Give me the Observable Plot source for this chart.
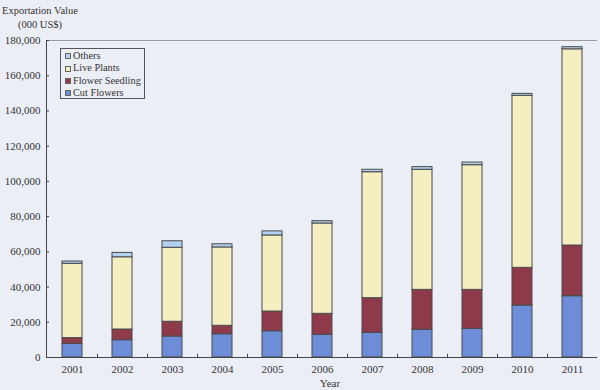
<!DOCTYPE html>
<html>
<head>
<meta charset="utf-8">
<script src="https://cdn.jsdelivr.net/npm/d3@7"></script>
<script src="https://cdn.jsdelivr.net/npm/@observablehq/plot@0.6"></script>
<style>
  html, body { margin: 0; padding: 0; background: #eceef6; }
  #wrap { position: relative; width: 600px; height: 390px; font-family: "Liberation Serif", "DejaVu Serif", serif; color: #333; }
  #ytitle { position: absolute; left: 0; top: 4px; width: 80px; text-align: center; font-size: 10.5px; line-height: 14px; }
  #legend { position: absolute; left: 60px; top: 48px; width: 85px; height: 51px; border: 1px solid #555; background: #eceef6; font-size: 10.3px; line-height: 12.4px; padding: 1px 0 0 4px; box-sizing: border-box; }
  #legend .it { display: flex; align-items: center; white-space: nowrap; }
  #legend .sw { display: inline-block; width: 4px; height: 4px; border: 1px solid #666; margin-right: 2px; }
</style>
</head>
<body>
<div id="wrap">
  <div id="chart"></div>
  <div id="ytitle">Exportation Value<br>(000 US$)</div>
  <div id="legend"></div>
</div>
<script>
const years = ["2001","2002","2003","2004","2005","2006","2007","2008","2009","2010","2011"];
const cutFlowers     = [7700, 9800, 11900, 13200, 14900, 12900, 14000, 15700, 16300, 29500, 34800];
const flowerSeedling = [3300, 6100, 8400, 4800, 11200, 11900, 19700, 22700, 22100, 21400, 28800];
const livePlants     = [42200, 41000, 42000, 44500, 43200, 51300, 71500, 68200, 70800, 97700, 111400];
const others         = [1300, 2500, 3700, 1800, 2300, 1300, 1400, 1500, 1500, 1100, 1200];
const seriesNames = ["Cut Flowers", "Flower Seedling", "Live Plants", "Others"];
const seriesColors = ["#6d8dd8", "#8e3a4a", "#f4eec0", "#b2d0f0"];
const yTicks = [0, 20000, 40000, 60000, 80000, 100000, 120000, 140000, 160000, 180000];

const seriesValues = [cutFlowers, flowerSeedling, livePlants, others];
const table = [];
years.forEach((y, i) => seriesNames.forEach((s, j) => table.push({year: y, series: s, value: seriesValues[j][i]})));

const chart = Plot.plot({
  width: 600,
  height: 390,
  marginLeft: 46,
  marginRight: 3,
  marginTop: 40,
  marginBottom: 33,
  style: {background: "transparent", fontFamily: "Liberation Serif, DejaVu Serif, serif", fontSize: "11px", color: "#333"},
  x: {domain: years, paddingInner: 0.6, paddingOuter: 0.3},
  y: {domain: [0, 180000]},
  color: {domain: seriesNames, range: seriesColors},
  marks: [
    Plot.ruleY([180000], {stroke: "#9a9a9a", strokeWidth: 1}),
    Plot.barY(table, {x: "year", y: "value", fill: "series", order: seriesNames, stroke: "#4a4a4a", strokeWidth: 1}),
    Plot.ruleY([0], {stroke: "#444", strokeWidth: 1}),
    Plot.ruleX(years.slice(0, -1), {x: d => d, dx: 25, y1: 0, y2: 1800, stroke: "#444"}),
    Plot.axisY({ticks: yTicks, tickFormat: d3.format(","), tickSize: -3, tickPadding: 9, label: null, stroke: "#444"}),
    (index, scales, values, dims) => {
      const l = document.createElementNS("http://www.w3.org/2000/svg", "line");
      l.setAttribute("x1", dims.marginLeft + 0.5);
      l.setAttribute("x2", dims.marginLeft + 0.5);
      l.setAttribute("y1", dims.marginTop);
      l.setAttribute("y2", dims.height - dims.marginBottom);
      l.setAttribute("stroke", "#444");
      return l;
    },
    Plot.axisX({tickSize: 0, tickPadding: 8, label: null}),
    Plot.text(["Year"], {frameAnchor: "bottom", lineAnchor: "middle", dx: 8, dy: 26, fontSize: 11, fill: "#333"})
  ]
});
document.getElementById("chart").appendChild(chart);

const legend = document.getElementById("legend");
for (let j = seriesNames.length - 1; j >= 0; j--) {
  const it = document.createElement("div");
  it.className = "it";
  it.innerHTML = `<span class="sw" style="background:${seriesColors[j]}"></span>${seriesNames[j]}`;
  legend.appendChild(it);
}
</script>
</body>
</html>
